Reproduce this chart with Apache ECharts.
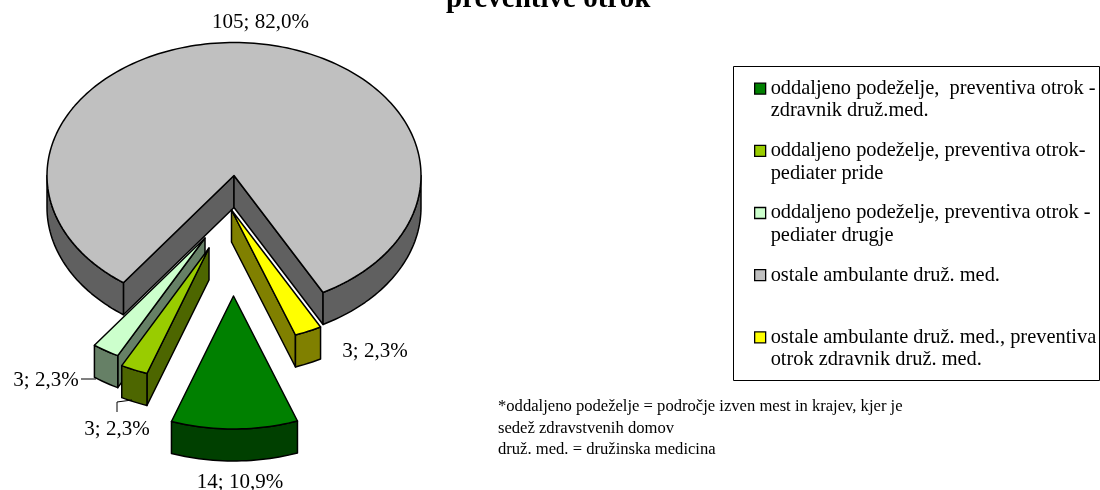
<!DOCTYPE html>
<html><head><meta charset="utf-8">
<style>html,body{margin:0;padding:0;background:#fff}#c{width:1100px;height:490px}</style>
<script src="https://cdn.jsdelivr.net/npm/echarts@6/dist/echarts.min.js"></script>
</head><body><div id="c"></div>
<script>
const categories = [
  'oddaljeno podeželje,  preventiva otrok - zdravnik druž.med.',
  'oddaljeno podeželje, preventiva otrok-pediater pride',
  'oddaljeno podeželje, preventiva otrok - pediater drugje',
  'ostale ambulante druž. med.',
  'ostale ambulante druž. med., preventiva otrok zdravnik druž. med.'
];
const legendLines = [
  ['oddaljeno podeželje,  preventiva otrok -', 'zdravnik druž.med.'],
  ['oddaljeno podeželje, preventiva otrok-', 'pediater pride'],
  ['oddaljeno podeželje, preventiva otrok -', 'pediater drugje'],
  ['ostale ambulante druž. med.', ''],
  ['ostale ambulante druž. med., preventiva', 'otrok zdravnik druž. med.']
];
const values = [14, 3, 3, 105, 3];
const topColors = ['#008000', '#99CC00', '#CCFFCC', '#C0C0C0', '#FFFF00'];
const wallColors = ['#004000', '#4D6600', '#668066', '#606060', '#808000'];
const apexes = [[233.5, 296], [209, 248], [205, 238], [234, 175.5], [231.5, 210]];
const labelAnchors = [[240, 482], [117, 429], [46, 380], [260.5, 22], [375, 351]];
const leaders = [null, [[117, 412], [117, 402], [132, 400]], [[81, 379], [96, 379]], null, null];
const zOrder = [6, 4, 3, 2, 5];
const footnotes = [
  '*oddaljeno podeželje = področje izven mest in krajev, kjer je',
  'sedež zdravstvenih domov',
  'druž. med. = družinska medicina'
];
const titleText = 'preventive otrok';

const firstSliceAngle = 160, rx = 187, ry = 133, depth = 32;
const serif = '"Liberation Serif", "Times New Roman", serif';
const total = values.reduce((a, b) => a + b, 0);

function pt(apex, deg, dy) {
  // deg: clockwise from the top of the pie
  const r = deg * Math.PI / 180;
  return [apex[0] + rx * Math.sin(r), apex[1] - ry * Math.cos(r) + (dy || 0)];
}
function arc(apex, a, b, dy) {
  const out = [], n = Math.max(2, Math.ceil(Math.abs(b - a) / 1.5));
  for (let i = 0; i <= n; i++) out.push(pt(apex, a + (b - a) * i / n, dy));
  return out;
}
const poly = (points, fill) => ({
  type: 'polygon', shape: { points },
  style: { fill, stroke: '#000', lineWidth: 1.5, lineJoin: 'round' }
});

function renderSlice(idx) {
  return function (params, api) {
    const value = api.value(0);
    let before = 0;
    for (let i = 0; i < idx; i++) before += values[i];
    const a0 = firstSliceAngle + before / total * 360;
    const a1 = a0 + value / total * 360;
    const apex = apexes[idx];
    const children = [];
    const mid = pt(apex, (a0 + a1) / 2);
    // cut faces
    [a0, a1].forEach(a => {
      const e = pt(apex, a);
      let nx = -(e[1] - apex[1]), ny = e[0] - apex[0];
      if (nx * (mid[0] - apex[0]) + ny * (mid[1] - apex[1]) > 0) { nx = -nx; ny = -ny; }
      if (ny > 0) {
        children.push(poly([apex, [apex[0], apex[1] + depth], [e[0], e[1] + depth], e], wallColors[idx]));
      }
    });
    // outer wall: the part of the rim facing the viewer (90..270 from the top, next turn 450..630)
    [[90, 270], [450, 630]].forEach(w => {
      const s = Math.max(a0, w[0]), t = Math.min(a1, w[1]);
      if (t > s) {
        children.push(poly(arc(apex, s, t).concat(arc(apex, t, s, depth)), wallColors[idx]));
      }
    });
    // top surface
    children.push(poly([apex].concat(arc(apex, a0, a1)), topColors[idx]));
    if (leaders[idx]) {
      children.push({ type: 'polyline', shape: { points: leaders[idx] }, style: { fill: null, stroke: '#000', lineWidth: 1 } });
    }
    const pct = (value / total * 100).toFixed(1).replace('.', ',');
    children.push({
      type: 'text', x: labelAnchors[idx][0], y: labelAnchors[idx][1],
      style: { text: value + '; ' + pct + '%', fill: '#000', font: '21px ' + serif, textAlign: 'center', textVerticalAlign: 'middle' }
    });
    return { type: 'group', children };
  };
}

const chart = echarts.init(document.getElementById('c'), null, { renderer: 'canvas' });
chart.setOption({
  animation: false,
  backgroundColor: '#fff',
  title: {
    text: titleText, left: 446, top: -15, padding: 0,
    textStyle: { fontFamily: serif, fontWeight: 'bold', fontSize: 29, color: '#000' }
  },
  legend: {
    orient: 'vertical', left: 754, top: 55, padding: 0, itemGap: -5,
    itemWidth: 11, itemHeight: 11, icon: 'rect', selectedMode: false,
    data: categories,
    formatter: name => {
      const l = legendLines[categories.indexOf(name)];
      return '\n' + l[0] + '\n' + l[1];
    },
    textStyle: { fontFamily: serif, fontSize: 20.4, color: '#000', lineHeight: 22.4 },
    itemStyle: { borderColor: '#000', borderWidth: 1.3 }
  },
  graphic: [
    { type: 'rect', shape: { x: 733.5, y: 66.5, width: 366, height: 314 }, style: { fill: 'none', stroke: '#000', lineWidth: 1 }, z: 1 },
    { type: 'group', children: footnotes.map((t, i) => ({
      type: 'text', x: 498, y: [407, 429, 450][i],
      style: { text: t, fill: '#000', font: '16.6px ' + serif, textVerticalAlign: 'middle' }
    })) }
  ],
  series: categories.map((name, i) => ({
    type: 'custom', name, coordinateSystem: 'none', z: zOrder[i], silent: true,
    itemStyle: { color: topColors[i] },
    renderItem: renderSlice(i),
    data: [[values[i]]]
  }))
});
</script></body></html>
